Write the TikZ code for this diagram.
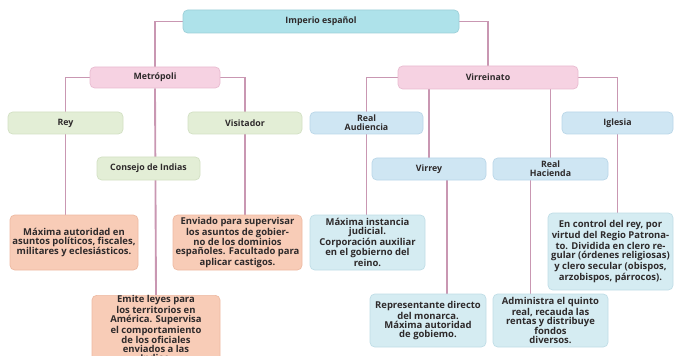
\documentclass[tikz,border=0pt]{standalone}
\usepackage{fontspec}
\setmainfont{Open Sans}
\usetikzlibrary{backgrounds,calc}
\definecolor{txt}{HTML}{2E2A2B}
\definecolor{cyanF}{HTML}{AEE2EA}
\definecolor{cyanD}{HTML}{9CCFD8}
\definecolor{pinkF}{HTML}{F6D2E2}
\definecolor{pinkD}{HTML}{E8BBD0}
\definecolor{greenF}{HTML}{E3EED6}
\definecolor{greenD}{HTML}{D2E0C3}
\definecolor{blueF}{HTML}{CFE6F3}
\definecolor{blueD}{HTML}{B9D6E8}
\definecolor{salF}{HTML}{F8CCB7}
\definecolor{salD}{HTML}{EDB9A1}
\definecolor{lblF}{HTML}{D5ECF2}
\definecolor{lblD}{HTML}{BFDDE6}
\definecolor{lineC}{HTML}{C997B2}
\tikzset{
  bx/.style 2 args={rounded corners=3.5pt, minimum width=#1*0.75pt,
    minimum height=#2*0.75pt, inner sep=0pt, align=center,
    font=\fontsize{6.6}{6.7}\selectfont\bfseries, text=txt, line width=0.5pt},
  desc/.style={font=\fontsize{7.1}{6.7}\selectfont\bfseries},
  cyanb/.style={fill=cyanF, draw=cyanD},
  pinkb/.style={fill=pinkF, draw=pinkD},
  greenb/.style={fill=greenF, draw=greenD},
  blueb/.style={fill=blueF, draw=blueD},
  salb/.style={fill=salF, draw=salD, desc},
  lblb/.style={fill=lblF, draw=lblD, desc},
  conn/.style={draw=lineC, line width=1.4pt},
}
\begin{document}
\begin{tikzpicture}[x=0.75pt,y=-0.75pt]
\clip (0,0) rectangle (674,356);
\useasboundingbox (0,0) rectangle (674,356);

\node[bx={276}{23}, cyanb] (imp) at (321,21.5) {Imperio español};
\node[bx={130}{21}, pinkb] (met) at (155,77.5) {Metrópoli};
\node[bx={180}{23}, pinkb] (vir) at (488,77.5) {Virreinato};

\node[bx={115}{22}, greenb] (rey) at (65.5,123) {Rey};
\node[bx={114}{22}, greenb] (vis) at (245,123) {Visitador};
\node[bx={103}{23}, greenb] (con) at (148.5,168.5) {Consejo de Indias};

\node[bx={113}{22}, blueb] (rau) at (366.5,123) {Real\\Audiencia};
\node[bx={111}{22}, blueb] (igl) at (617.5,123) {Iglesia};
\node[bx={114}{22}, blueb] (vry) at (429,169) {Virrey};
\node[bx={115}{22}, blueb] (rha) at (550.5,169) {Real\\Hacienda};

\node[bx={128}{55}, salb] (drey) at (74,242.5) {Máxima autoridad en\\asuntos políticos, fiscales,\\militares y eclesiásticos.};
\node[bx={129}{55}, salb] (dvis) at (237.5,242.5) {Enviado para supervisar\\los asuntos de gobier-\\no de los dominios\\españoles. Facultado para\\aplicar castigos.};
\node[bx={128}{66}, salb, anchor=north] (dcon) at (156,295) {Emite leyes para\\los territorios en\\América. Supervisa\\el comportamiento\\de los oficiales\\enviados a las\\Indias.};

\node[bx={115}{55}, lblb] (drau) at (367.5,242.5) {Máxima instancia\\judicial.\\Corporación auxiliar\\en el gobierno del\\reino.};
\node[bx={116}{53}, lblb] (dvry) at (428,320.5) {Representante directo\\del monarca.\\Máxima autoridad\\de gobiemo.};
\node[bx={115}{53}, lblb] (drha) at (550.5,320.5) {Administra el quinto\\real, recauda las\\rentas y distribuye\\fondos\\diversos.};
\node[bx={125}{77}, lblb] (digl) at (610.5,251.5) {En control del rey, por\\virtud del Regio Patrona-\\to. Dividida en clero re-\\gular (órdenes religiosas)\\y clero secular (obispos,\\arzobispos, párrocos).};

\coordinate (virL) at ($(vry.south)+(18,0)$);
\coordinate (rhaL) at ($(rha.south)+(-20,0)$);

\begin{pgfonlayer}{background}
\draw[conn] (imp.west) -| (met.north);
\draw[conn] (imp.east) -| (vir.north);
\draw[conn] (met.west) -| (rey.north);
\draw[conn] (met.east) -| (vis.north);
\draw[conn] (met.south) -- (dcon.north);
\draw[conn] (rey.south) -- (rey.south |- drey.north);
\draw[conn] (vis.south) -- (vis.south |- dvis.north);
\draw[conn] (vir.west) -| (rau.north);
\draw[conn] (vir.east) -| (igl.north);
\draw[conn] (vir.south -| vry.north) -- (vry.north);
\draw[conn] (vir.south -| rha.north) -- (rha.north);
\draw[conn] (rau.south) -- (rau.south |- drau.north);
\draw[conn] (igl.south) -- (igl.south |- digl.north);
\draw[conn] (virL) -- (virL |- dvry.north);
\draw[conn] (rhaL) -- (rhaL |- drha.north);
\end{pgfonlayer}
\end{tikzpicture}
\end{document}
